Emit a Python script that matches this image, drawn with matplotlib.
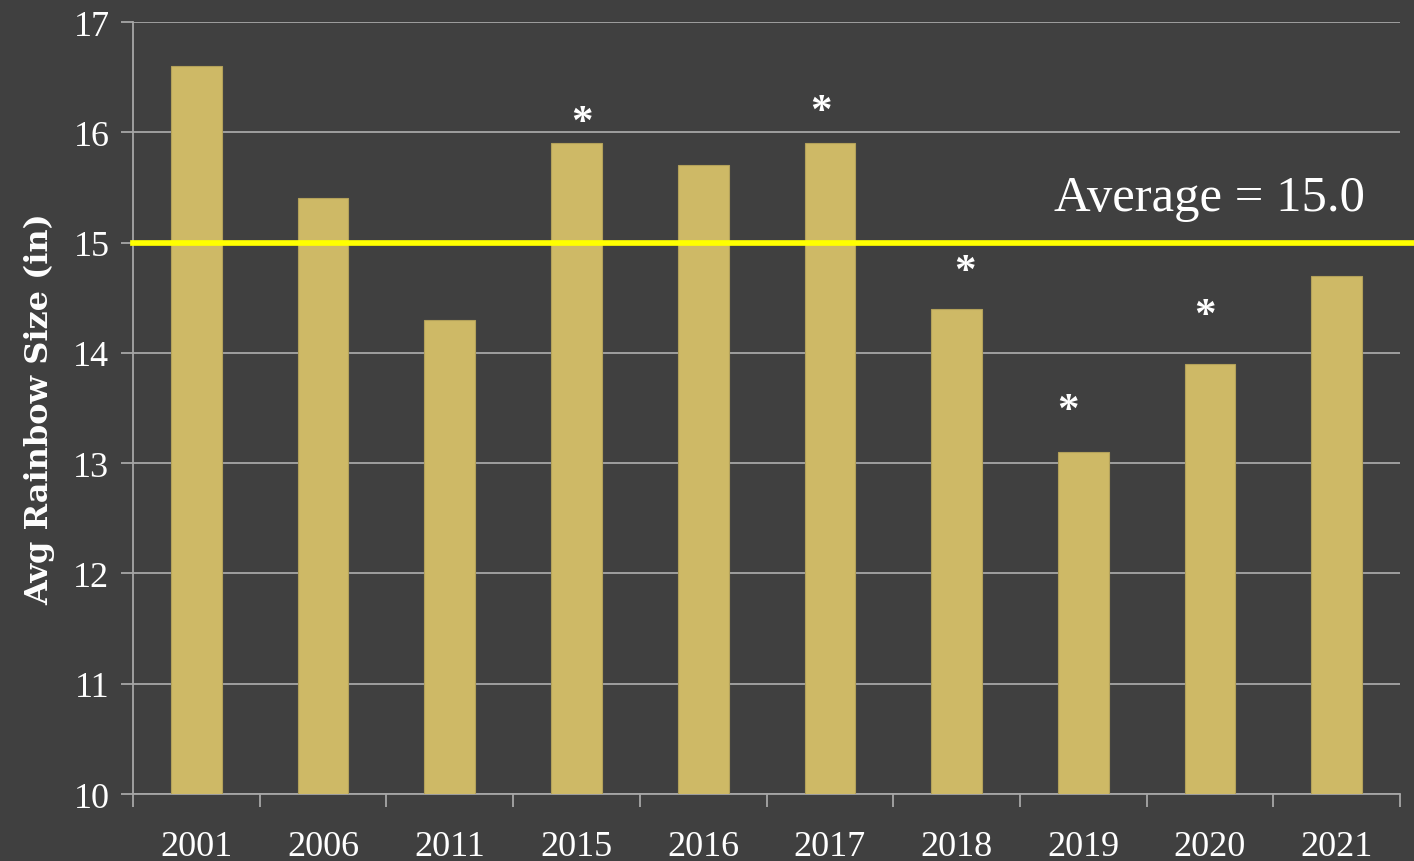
import matplotlib.pyplot as plt
import numpy as np

# data
years = ['2001', '2006', '2011', '2015', '2016', '2017', '2018', '2019', '2020', '2021']
sizes = [16.6, 15.4, 14.3, 15.9, 15.7, 15.9, 14.4, 13.1, 13.9, 14.7]
# asterisks (positions as drawn in the original)
star_x = [3.04, 4.93, 6.07, 6.88, 7.96]
star_y = [16.08, 16.18, 14.73, 13.47, 14.33]
average = 15.0

bg = '#404040'
bar_col = '#CEB966'
grid_col = '#A6A6A6'

plt.rcParams['font.family'] = ['Liberation Serif', 'DejaVu Serif']

fig = plt.figure(figsize=(14.14, 8.62), dpi=100, facecolor=bg)
ax = fig.add_axes([0.0941, 0.0777, 0.8960, 0.8956], facecolor=bg)

x = np.arange(len(years))
ax.bar(x, sizes, width=0.4, color=bar_col, edgecolor='#B3A15A', linewidth=0.8, zorder=3)

for sx, sy in zip(star_x, star_y):
    ax.text(sx, sy, '*', color='white', fontsize=31, fontweight='bold',
            ha='center', va='center', zorder=5)

# average line runs out to the figure edge
ax.axhline(average, xmin=0, xmax=1.0115, color='#FFFF00', linewidth=4.1, clip_on=False, zorder=4)
ax.text(9.224, average + 0.30, 'Average = %.1f' % average, color='white', fontsize=36.5,
        ha='right', va='baseline', zorder=5)

ax.set_xlim(-0.5, 9.5)
ax.set_ylim(10, 17)
ax.set_yticks(range(10, 18))
ax.yaxis.grid(True, color=grid_col, linewidth=1.3, zorder=0)

ax.set_xticks(x)
ax.set_xticklabels(years)
ax.set_xticks(np.arange(-0.5, 10, 1), minor=True)
ax.tick_params(axis='x', which='major', length=0, pad=26, labelsize=26, labelcolor='white')
ax.tick_params(axis='x', which='minor', length=9, width=1.3, color=grid_col, direction='out')
ax.tick_params(axis='y', length=9, width=1.3, color=grid_col, pad=8, labelsize=26, labelcolor='white')

for s in ['top', 'right']:
    ax.spines[s].set_visible(False)
for s in ['left', 'bottom']:
    ax.spines[s].set_color(grid_col)
    ax.spines[s].set_linewidth(1.3)

ax.set_ylabel('Avg Rainbow Size (in)', color='white', fontsize=23, fontweight='bold',
              family=['DejaVu Serif'], labelpad=13)

fig.savefig('out.png', facecolor=bg)
